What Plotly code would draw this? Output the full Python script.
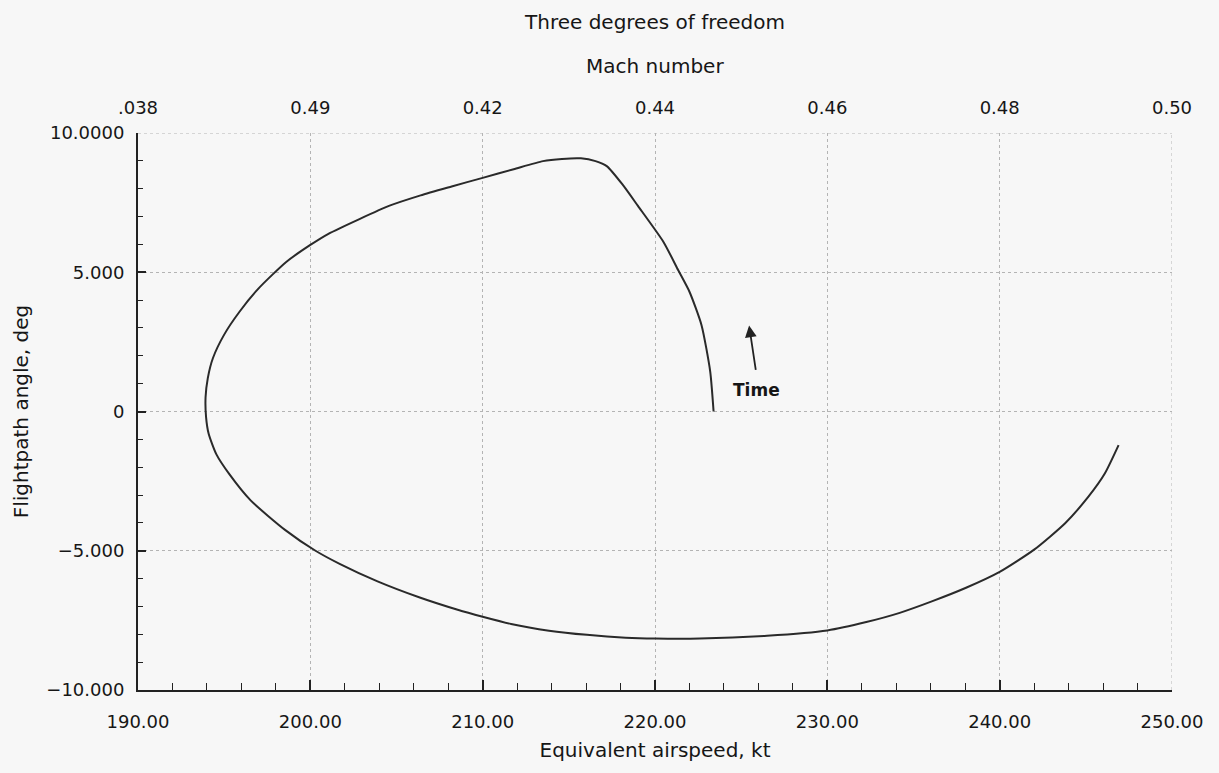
import plotly.graph_objects as go

# Trajectory in the speed / flightpath-angle plane (time runs from the first point onward)
airspeed_kt = [
    223.4, 223.2, 222.7, 222.0, 221.35, 220.5, 219.0, 218.1, 217.2, 216.55,
    215.7, 214.6, 213.5, 211.8, 210.0, 208.2, 206.4, 204.6, 202.85, 201.05,
    200.0, 198.6, 197.0, 195.9, 195.0, 194.35, 194.05, 193.92, 193.95, 194.1,
    194.55, 195.3, 196.55, 198.55, 200.3, 201.7, 203.9, 206.35, 208.55, 210.0,
    211.65, 213.85, 216.05, 218.3, 220.0, 222.6, 226.5, 230.0, 232.26, 234.2,
    236.1, 238.05, 240.0, 242.0, 243.8, 245.15, 246.1, 246.9,
]
flightpath_deg = [
    0.0, 1.45, 3.1, 4.3, 5.07, 6.08, 7.39, 8.16, 8.81, 8.99,
    9.09, 9.07, 8.99, 8.70, 8.39, 8.08, 7.76, 7.39, 6.91, 6.38,
    5.98, 5.37, 4.42, 3.59, 2.76, 1.92, 1.2, 0.5, -0.2, -0.8,
    -1.54, -2.25, -3.2, -4.26, -5.0, -5.47, -6.1, -6.68, -7.12, -7.37,
    -7.63, -7.87, -8.02, -8.12, -8.15, -8.15, -8.05, -7.86, -7.56, -7.23,
    -6.81, -6.33, -5.76, -4.96, -4.01, -3.06, -2.23, -1.21,
]

# Axis ticks
speed_ticks = [190, 200, 210, 220, 230, 240, 250]
speed_labels = ["190.00", "200.00", "210.00", "220.00", "230.00", "240.00", "250.00"]
mach_labels = [".038", "0.49", "0.42", "0.44", "0.46", "0.48", "0.50"]
angle_ticks = [-10, -5, 0, 5, 10]
angle_labels = ["\u221210.000", "\u22125.000", "0", "5.000", "10.0000"]

FONT = "DejaVu Sans"
INK = "#161616"
BG = "#f7f7f7"
GRID = "#b4b4b4"

fig = go.Figure()
fig.add_trace(go.Scatter(
    x=airspeed_kt, y=flightpath_deg, mode="lines",
    line=dict(color="#2a2a2a", width=2, shape="spline", smoothing=0.6),
    showlegend=False, hoverinfo="skip",
))
# invisible trace to carry the Mach-number axis along the top
fig.add_trace(go.Scatter(
    x=[speed_ticks[0], speed_ticks[-1]], y=[0, 0], xaxis="x2",
    mode="markers", marker=dict(opacity=0), showlegend=False, hoverinfo="skip",
))

fig.update_layout(
    width=1219, height=773,
    margin=dict(l=138, r=47, t=133, b=83),
    paper_bgcolor=BG, plot_bgcolor=BG,
    font=dict(family=FONT, size=18, color=INK),
    title=dict(text="Three degrees of freedom", x=0.5, xref="paper",
               y=1 - 22 / 773, yref="container", yanchor="middle",
               font=dict(family=FONT, size=20, color=INK)),
    xaxis=dict(
        range=[190, 250], tickvals=speed_ticks, ticktext=speed_labels,
        ticks="inside", ticklen=10, tickwidth=1.5, tickcolor="#222",
        minor=dict(ticks="inside", dtick=2, ticklen=7, tickwidth=1.2, tickcolor="#222", showgrid=False),
        showline=True, linecolor="#222", linewidth=2,
        showgrid=True, gridcolor=GRID, griddash="dot", gridwidth=1,
        zeroline=False, ticklabelstandoff=14,
        title=dict(text="Equivalent airspeed, kt", font=dict(size=20), standoff=12),
    ),
    xaxis2=dict(
        overlaying="x", side="top", range=[190, 250],
        tickvals=speed_ticks, ticktext=mach_labels,
        ticks="", showline=False, showgrid=False, zeroline=False,
        ticklabelstandoff=14,
    ),
    yaxis=dict(
        range=[-10, 10], tickvals=angle_ticks, ticktext=angle_labels,
        ticks="inside", ticklen=8, tickwidth=1.5, tickcolor="#222",
        minor=dict(ticks="inside", dtick=1, ticklen=5, tickwidth=1.2, tickcolor="#222", showgrid=False),
        showline=True, linecolor="#222", linewidth=2,
        showgrid=True, gridcolor=GRID, griddash="dot", gridwidth=1,
        zeroline=False, ticklabelstandoff=8,
        title=dict(text="Flightpath angle, deg", font=dict(size=20), standoff=12),
    ),
)

# title of the Mach-number scale
fig.add_annotation(x=0.5, y=1 + (133 - 66) / 557, xref="paper", yref="paper",
                   text="Mach number", showarrow=False, yanchor="middle",
                   font=dict(family=FONT, size=20, color=INK))

# dotted frame along the top and right edges
fig.add_shape(type="line", xref="x", yref="y", x0=190, x1=250, y0=10, y1=10,
              line=dict(color=GRID, width=1, dash="dot"))
fig.add_shape(type="line", xref="x", yref="y", x0=250, x1=250, y0=-10, y1=10,
              line=dict(color=GRID, width=1, dash="dot"))

# time-direction arrow and label
fig.add_annotation(x=225.46, y=3.09, ax=225.86, ay=1.44, xref="x", yref="y",
                   axref="x", ayref="y", text="", showarrow=True,
                   arrowhead=2, arrowsize=1.3, arrowwidth=1.8, arrowcolor="#222")
fig.add_annotation(x=225.9, y=0.79, xref="x", yref="y", text="<b>Time</b>",
                   showarrow=False, font=dict(family=FONT, size=17, color=INK))

fig.write_html("out.html")
